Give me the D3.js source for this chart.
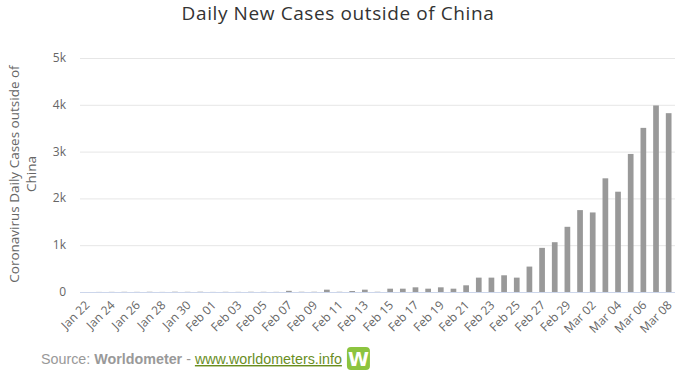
<!DOCTYPE html>
<html><head><meta charset="utf-8">
<script src="https://cdn.jsdelivr.net/npm/d3@7"></script>
<style>body{margin:0;background:#fff;}svg{display:block;}</style>
</head><body>
<svg id="c" width="682" height="375"></svg>
<script>
const dates = ["Jan 22","Jan 23","Jan 24","Jan 25","Jan 26","Jan 27","Jan 28","Jan 29","Jan 30","Jan 31",
"Feb 01","Feb 02","Feb 03","Feb 04","Feb 05","Feb 06","Feb 07","Feb 08","Feb 09","Feb 10","Feb 11","Feb 12","Feb 13","Feb 14",
"Feb 15","Feb 16","Feb 17","Feb 18","Feb 19","Feb 20","Feb 21","Feb 22","Feb 23","Feb 24","Feb 25","Feb 26","Feb 27","Feb 28","Feb 29",
"Mar 01","Mar 02","Mar 03","Mar 04","Mar 05","Mar 06","Mar 07","Mar 08"];
const newCases = [0,2,3,4,3,5,2,6,4,6,
2,4,3,5,4,3,25,5,5,50,5,21,50,5,
71,71,100,71,100,71,143,307,307,357,307,543,943,1064,1393,
1750,1700,2429,2143,2950,3507,3986,3821];
const yTicks = [0,1000,2000,3000,4000,5000];
const yTickLabels = ["0","1k","2k","3k","4k","5k"];

const svg = d3.select("#c");
const m = {l:80, r:7, t:58, b:83};
const W = 682, H = 375;
const x = d3.scaleBand().domain(dates).range([m.l, W - m.r]).paddingInner(0.55).paddingOuter(0.275);
const y = d3.scaleLinear().domain([0,5000]).range([H - m.b, m.t]);

// title
svg.append("text").attr("x", 338).attr("y", 20).attr("text-anchor","middle")
  .attr("font-family","Open Sans, sans-serif").attr("font-size",19).attr("letter-spacing",0.6).attr("fill","#333")
  .text("Daily New Cases outside of China");

// gridlines
svg.append("g").selectAll("line").data(yTicks.slice(1)).join("line")
  .attr("x1", m.l).attr("x2", W - m.r).attr("y1", d=>y(d)+0.5).attr("y2", d=>y(d)+0.5)
  .attr("stroke","#e6e6e6");

// y labels
svg.append("g").selectAll("text").data(yTicks).join("text")
  .attr("x", 66).attr("y", d=>y(d)+4).attr("text-anchor","end")
  .attr("font-family","Open Sans, sans-serif").attr("font-size",12).attr("fill","#666")
  .text((d,i)=>yTickLabels[i]);

// y title
const yt = svg.append("text").attr("transform","translate(19,174) rotate(-90)")
  .attr("text-anchor","middle").attr("font-family","Open Sans, sans-serif").attr("font-size",13.5).attr("fill","#666");
yt.append("tspan").attr("x",0).attr("dy",0).text("Coronavirus Daily Cases outside of");
yt.append("tspan").attr("x",0).attr("dy",17).text("China");

// bars
svg.append("g").selectAll("rect").data(newCases).join("rect")
  .attr("x",(d,i)=>x(dates[i])).attr("width", x.bandwidth())
  .attr("y", d=>y(d)).attr("height", d=>y(0)-y(d)).attr("fill","#999999");

// x axis
const xAxis = d3.axisBottom(x).tickValues(dates.filter((d,i)=>i%2===0)).tickSize(0).tickPadding(0);
const gx = svg.append("g").attr("transform",`translate(0,${y(0)})`).call(xAxis);
gx.select(".domain").attr("stroke","#ccd6eb").attr("d",`M${m.l},0.5H${W-m.r}`);
gx.selectAll("text").attr("font-family","Open Sans, sans-serif").attr("font-size",12).attr("fill","#666")
  .attr("text-anchor","end").attr("dy",null).attr("y",0)
  .attr("transform","translate(4,14) rotate(-45)");

// credits
const cr = svg.append("text").attr("x",41).attr("y",364)
  .attr("font-family","Liberation Sans, Arial, sans-serif").attr("font-size",14.3).attr("fill","#999");
cr.append("tspan").text("Source: ");
cr.append("tspan").attr("font-weight","bold").text("Worldometer");
cr.append("tspan").text(" - ");
cr.append("tspan").attr("fill","#6a8e1f").attr("text-decoration","underline").text("www.worldometers.info");
const bb = cr.node().getBBox();
const ix = bb.x + bb.width + 5;
const ic = svg.append("g").attr("transform",`translate(${ix},347)`);
ic.append("rect").attr("width",23).attr("height",23).attr("rx",4).attr("fill","#8cc43f");
ic.append("text").attr("x",11.5).attr("y",19).attr("text-anchor","middle")
  .attr("font-family","DejaVu Sans, sans-serif").attr("font-weight","bold").attr("font-size",19).attr("fill","#fff").text("W");
</script>
</body></html>
